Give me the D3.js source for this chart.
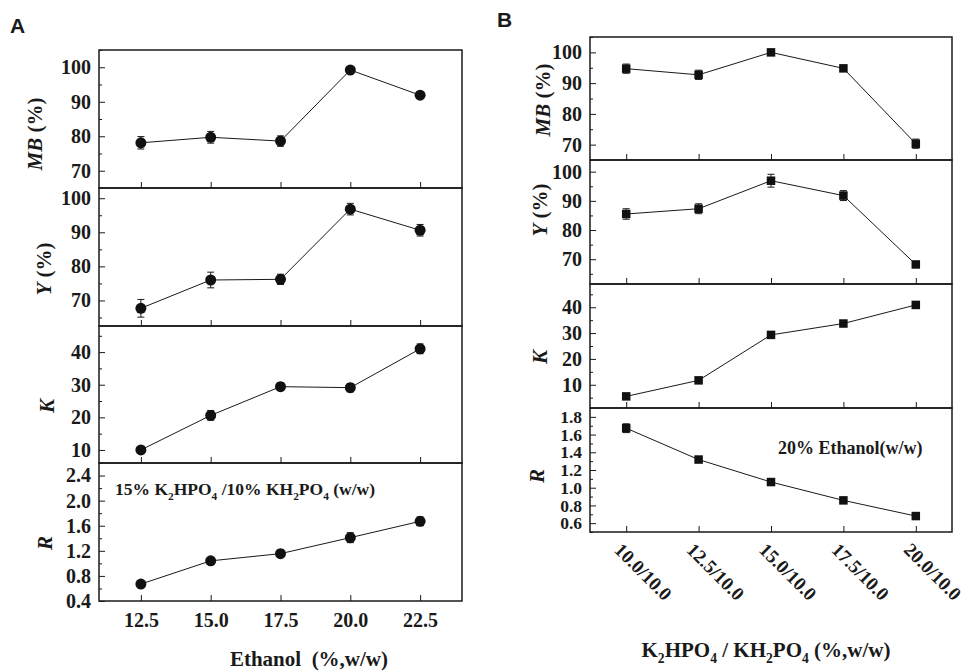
<!DOCTYPE html>
<html>
<head>
<meta charset="utf-8">
<script src="https://cdn.jsdelivr.net/npm/d3@7"></script>
<style>
  body { margin: 0; background: #fff; }
  svg { display: block; }
  text { font-family: "Liberation Serif", "Times New Roman", serif; font-weight: bold; fill: #1a1a1a; }
  .tag { font-family: "Liberation Sans", Arial, sans-serif; }
</style>
</head>
<body>
<svg id="chart" width="965" height="671"></svg>
<script>
// ---- panel A: ethanol concentration (%, w/w) ----
const ethanol = [12.5, 15.0, 17.5, 20.0, 22.5];
const mbA = [78.1, 79.7, 78.6, 99.2, 91.9];
const mbAErr = [1.8, 1.7, 1.5, 0.6, 0.5];
const yA = [67.7, 76.0, 76.2, 96.8, 90.6];
const yAErr = [2.6, 2.3, 1.5, 1.7, 1.7];
const kA = [10.0, 20.6, 29.4, 29.1, 41.0];
const kAErr = [0.4, 1.5, 1.2, 1.3, 1.5];
const rA = [0.67, 1.04, 1.155, 1.41, 1.67];
const rAErr = [0.02, 0.05, 0.06, 0.08, 0.07];

// ---- panel B: K2HPO4 / KH2PO4 ratio ----
const ratios = ["10.0/10.0", "12.5/10.0", "15.0/10.0", "17.5/10.0", "20.0/10.0"];
const mbB = [94.7, 92.7, 100.0, 94.8, 70.3];
const mbBErr = [1.5, 1.5, 0.5, 1.0, 1.5];
const yB = [85.5, 87.3, 96.9, 91.8, 68.2];
const yBErr = [1.8, 1.7, 2.2, 1.7, 1.0];
const kB = [5.5, 11.7, 29.3, 33.7, 40.9];
const kBErr = [0.5, 0.8, 1.0, 0.6, 0.6];
const rB = [1.672, 1.318, 1.064, 0.857, 0.68];
const rBErr = [0.05, 0.03, 0.03, 0.01, 0.01];

// tick values
const pctMajor = [70, 80, 90, 100];
const pctMinor = [65, 75, 85, 95, 105];
const kMajor = [10, 20, 30, 40];
const kMinor = [5, 15, 25, 35, 45];
const rAMajor = [0.4, 0.8, 1.2, 1.6, 2.0, 2.4];
const rAMinor = [0.6, 1.0, 1.4, 1.8, 2.2, 2.6];
const rBMajor = [0.6, 0.8, 1.0, 1.2, 1.4, 1.6, 1.8];
const rBMinor = [0.5, 0.7, 0.9, 1.1, 1.3, 1.5, 1.7, 1.9];

const svg = d3.select("#chart");
const ink = "#1a1a1a";

// x scales
const xA = d3.scaleLinear().domain([11, 24]).range([99, 462]);
const xB = d3.scalePoint().domain(ratios).range([590, 952]).padding(0.5);

function drawPanel(cfg) {
    const g = svg.append("g");
    const y = d3.scaleLinear().domain(cfg.domain).range([cfg.bottom, cfg.top]);
    const xs = cfg.xs;
    const left = xs.range()[0], right = xs.range()[1];
    const keys = cfg.keys;

    // minor y ticks
    g.append("g")
        .attr("transform", `translate(${left},0)`)
        .call(d3.axisLeft(y).tickValues(cfg.minor.filter(v => v >= cfg.domain[0] && v <= cfg.domain[1]))
            .tickSize(-3).tickFormat(""))
        .call(s => s.select(".domain").remove())
        .call(s => s.selectAll("text").remove())
        .selectAll("line").attr("stroke", ink);

    // major y ticks
    g.append("g")
        .attr("transform", `translate(${left},0)`)
        .call(d3.axisLeft(y).tickValues(cfg.major).tickSizeInner(-6).tickSizeOuter(0)
            .tickPadding(8).tickFormat(cfg.fmt))
        .call(s => s.select(".domain").remove())
        .call(s => s.selectAll("line").attr("stroke", ink))
        .call(s => s.selectAll("text").attr("font-size", cfg.tickSize || 20).attr("fill", ink));

    // bottom x ticks (inward)
    const xg = g.append("g")
        .attr("transform", `translate(0,${cfg.bottom})`)
        .call(d3.axisBottom(xs).tickValues(keys).tickSizeInner(-6).tickSizeOuter(0)
            .tickPadding(12).tickFormat(cfg.xfmt || (() => "")))
        .call(s => s.select(".domain").remove())
        .call(s => s.selectAll("line").attr("stroke", ink))
        .call(s => s.selectAll("text").attr("font-size", 20).attr("fill", ink));
    if (!cfg.xfmt) xg.selectAll("text").remove();

    // frame
    g.append("rect")
        .attr("x", left).attr("y", cfg.top)
        .attr("width", right - left).attr("height", cfg.bottom - cfg.top)
        .attr("fill", "none").attr("stroke", ink).attr("stroke-width", 1.5);

    const pts = keys.map((k, i) => ({ x: xs(k), v: cfg.values[i], e: cfg.errors[i] }));

    g.append("path")
        .datum(pts)
        .attr("fill", "none").attr("stroke", ink).attr("stroke-width", 1)
        .attr("d", d3.line().x(d => d.x).y(d => y(d.v)));

    // error bars
    const eb = g.selectAll(".eb").data(pts).enter().append("g").attr("stroke", ink).attr("stroke-width", 1);
    eb.append("line").attr("x1", d => d.x).attr("x2", d => d.x)
        .attr("y1", d => y(d.v - d.e)).attr("y2", d => y(d.v + d.e));
    eb.append("line").attr("x1", d => d.x - 3.5).attr("x2", d => d.x + 3.5)
        .attr("y1", d => y(d.v - d.e)).attr("y2", d => y(d.v - d.e));
    eb.append("line").attr("x1", d => d.x - 3.5).attr("x2", d => d.x + 3.5)
        .attr("y1", d => y(d.v + d.e)).attr("y2", d => y(d.v + d.e));

    // markers
    if (cfg.shape === "circle") {
        g.selectAll(".m").data(pts).enter().append("circle")
            .attr("cx", d => d.x).attr("cy", d => y(d.v)).attr("r", 5.5).attr("fill", "#111");
    } else {
        g.selectAll(".m").data(pts).enter().append("rect")
            .attr("x", d => d.x - 4.25).attr("y", d => y(d.v) - 4.25)
            .attr("width", 8.5).attr("height", 8.5).attr("fill", "#111");
    }

    // y label
    const lab = g.append("text")
        .attr("transform", `translate(${cfg.labelX},${cfg.labelY}) rotate(-90)`)
        .attr("text-anchor", "middle").attr("dy", "0.35em").attr("font-size", 21);
    lab.append("tspan").attr("font-style", "italic").text(cfg.label[0]);
    if (cfg.label[1]) lab.append("tspan").text(cfg.label[1]);
}

const f0 = d3.format("d"), f1 = d3.format(".1f");

// Panel A sub-panels
const bA = [50, 188, 326, 463, 601];
drawPanel({ xs: xA, keys: ethanol, top: bA[0], bottom: bA[1], domain: [65, 105], major: pctMajor, minor: pctMinor,
    fmt: f0, values: mbA, errors: mbAErr, shape: "circle", label: ["MB", " (%)"], labelX: 35, labelY: 134 });
drawPanel({ xs: xA, keys: ethanol, top: bA[1], bottom: bA[2], domain: [62.5, 103], major: pctMajor, minor: pctMinor,
    fmt: f0, values: yA, errors: yAErr, shape: "circle", label: ["Y", " (%)"], labelX: 44, labelY: 269 });
drawPanel({ xs: xA, keys: ethanol, top: bA[2], bottom: bA[3], domain: [6, 48], major: kMajor, minor: kMinor,
    fmt: f0, values: kA, errors: kAErr, shape: "circle", label: ["K"], labelX: 47, labelY: 406 });
drawPanel({ xs: xA, keys: ethanol, top: bA[3], bottom: bA[4], domain: [0.4, 2.6], major: rAMajor, minor: rAMinor,
    fmt: f1, values: rA, errors: rAErr, shape: "circle", label: ["R"], labelX: 45, labelY: 543, xfmt: f1 });

// Panel B sub-panels
const bB = [37, 160, 284, 408, 532];
drawPanel({ xs: xB, keys: ratios, top: bB[0], bottom: bB[1], domain: [65, 105], major: pctMajor, minor: pctMinor,
    fmt: f0, values: mbB, errors: mbBErr, shape: "square", label: ["MB", " (%)"], labelX: 543, labelY: 100 });
drawPanel({ xs: xB, keys: ratios, top: bB[1], bottom: bB[2], domain: [61.5, 104], major: pctMajor, minor: pctMinor,
    fmt: f0, values: yB, errors: yBErr, shape: "square", label: ["Y", " (%)"], labelX: 540, labelY: 210 });
drawPanel({ xs: xB, keys: ratios, top: bB[2], bottom: bB[3], domain: [1, 49], major: kMajor, minor: kMinor,
    fmt: f0, values: kB, errors: kBErr, shape: "square", label: ["K"], labelX: 540, labelY: 357 });
drawPanel({ xs: xB, keys: ratios, top: bB[3], bottom: bB[4], domain: [0.5, 1.9], major: rBMajor, minor: rBMinor,
    fmt: f1, values: rB, errors: rBErr, shape: "square", label: ["R"], labelX: 537, labelY: 476, tickSize: 17.5 });

// rotated category labels for B
svg.append("g").selectAll("text").data(ratios).enter().append("text")
    .attr("transform", d => `translate(${xB(d) - 13},551) rotate(45)`)
    .attr("font-size", 19).text(d => d);

// text with subscripts (sizes in px so the baseline is restored exactly)
function chem(sel, parts, fs) {
    const shift = fs * 0.3;
    let down = false;
    parts.forEach(p => {
        if (p.sub) {
            sel.append("tspan").attr("font-size", fs * 0.65).attr("dy", shift).text(p.sub);
            down = true;
        } else {
            const t = sel.append("tspan").text(p.t);
            if (down) { t.attr("dy", -shift); down = false; }
        }
    });
}

// annotations
chem(svg.append("text").attr("x", 115).attr("y", 495).attr("font-size", 17.5).style("white-space", "pre"),
    [{ t: "15% K" }, { sub: "2" }, { t: "HPO" }, { sub: "4" }, { t: " /10% KH" }, { sub: "2" }, { t: "PO" }, { sub: "4" }, { t: " (w/w)" }], 17.5);
svg.append("text").attr("x", 778).attr("y", 454).attr("font-size", 18).text("20% Ethanol(w/w)");

// axis titles
svg.append("text").attr("x", 309).attr("y", 666).attr("text-anchor", "middle").attr("font-size", 21)
    .style("white-space", "pre").text("Ethanol  (%,w/w)");
chem(svg.append("text").attr("x", 766).attr("y", 657).attr("text-anchor", "middle").attr("font-size", 21).style("white-space", "pre"),
    [{ t: "K" }, { sub: "2" }, { t: "HPO" }, { sub: "4" }, { t: " / KH" }, { sub: "2" }, { t: "PO" }, { sub: "4" }, { t: " (%,w/w)" }], 21);

// panel tags
svg.append("text").attr("class", "tag").attr("x", 10).attr("y", 33).attr("font-size", 21).text("A");
svg.append("text").attr("class", "tag").attr("x", 497).attr("y", 27).attr("font-size", 21).text("B");
</script>
</body>
</html>
